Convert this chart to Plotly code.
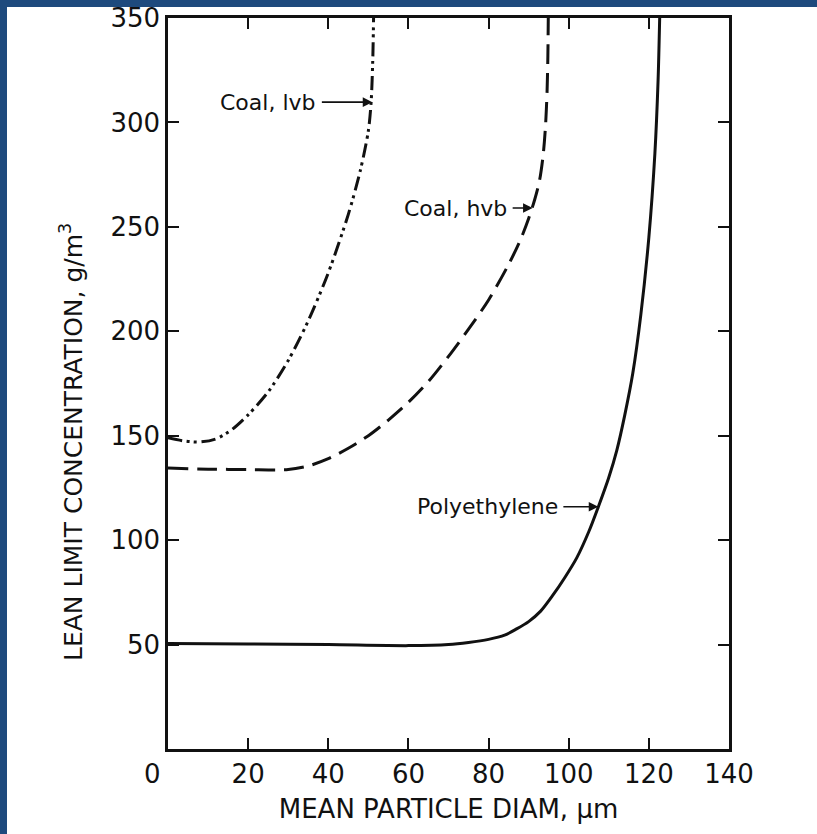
import plotly.graph_objects as go

# ---- data ----
poly_x = [0, 20, 40, 60, 70, 75, 80, 84, 87, 90, 93, 96, 99, 102, 105, 107.4, 110, 112, 114, 116, 118, 120, 121.5, 122.3, 122.7]
poly_y = [50.5, 50.3, 50, 49.5, 50, 51, 52.5, 54.5, 57.5, 61, 66, 73.5, 82, 91.5, 104, 116, 130, 143, 160, 180, 208, 245, 285, 320, 350]

hvb_x = [0, 10, 20, 30, 35, 40, 45, 50, 55, 60, 65, 70, 75, 80, 85, 88, 90, 91.5, 92.7, 93.6, 94.2, 94.6, 94.8, 94.9]
hvb_y = [134.5, 134, 133.8, 133.8, 135.5, 139, 144, 150, 157.5, 166, 176, 188, 201, 215, 232, 244, 254, 263, 272, 284, 298, 315, 332, 350]

lvb_x = [0, 4, 8, 12, 16, 20, 25, 30, 35, 40, 45, 48, 50, 50.7, 51.1, 51.3]
lvb_y = [149, 147.5, 147, 148.5, 153, 160, 171, 186, 205, 228, 256, 277, 296, 310, 330, 350]

x_ticks = [20, 40, 60, 80, 100, 120, 140]
y_ticks = [50, 100, 150, 200, 250, 300, 350]

labels = ["Coal, lvb", "Coal, hvb", "Polyethylene"]
label_tip_x = [51, 91, 107.4]
label_tip_y = [309.7, 259, 116]

# label layout (pixels): arrow length, approximate text width, gap text->arrow
arrow_len_px = [50, 20, 34]
text_w_px = [98, 104, 144]
GAP = 5

FONT = "DejaVu Sans"
INK = "#111111"
BLUE = "#1e4a7d"

fig = go.Figure()
fig.add_trace(go.Scatter(x=poly_x, y=poly_y, mode="lines",
                         line=dict(color=INK, width=3, shape="spline", smoothing=0.8), showlegend=False))
fig.add_trace(go.Scatter(x=hvb_x, y=hvb_y, mode="lines",
                         line=dict(color=INK, width=3, dash="20px,9px", shape="spline", smoothing=0.8), showlegend=False))
fig.add_trace(go.Scatter(x=lvb_x, y=lvb_y, mode="lines",
                         line=dict(color=INK, width=3, dash="14px,5px,3px,4px,3px,5px", shape="spline", smoothing=0.8),
                         showlegend=False))

W, H = 817, 834
L, R, T, B = 168, 88, 18, 85

annotations = []
for txt, tx, ty, al, tw in zip(labels, label_tip_x, label_tip_y, arrow_len_px, text_w_px):
    annotations.append(dict(x=tx, y=ty, xref="x", yref="y", text=txt, showarrow=True,
                            ax=-(al + tw / 2 + GAP), ay=0, arrowhead=2, arrowsize=1.2, arrowwidth=1.6,
                            arrowcolor=INK, standoff=0, borderpad=GAP,
                            font=dict(family=FONT, size=22, color=INK)))
# origin label "0"
annotations.append(dict(x=0, y=0, xref="x", yref="y", text="0", showarrow=False,
                        xanchor="center", yanchor="top", xshift=-16, yshift=-8,
                        font=dict(family=FONT, size=26, color=INK)))
# y axis title
annotations.append(dict(x=(72 - L) / (W - L - R), y=0.42, xref="paper", yref="paper",
                        text="LEAN LIMIT CONCENTRATION, g/m<sup>3</sup>", textangle=-90,
                        showarrow=False, xanchor="center", yanchor="middle",
                        font=dict(family=FONT, size=25, color=INK)))

pw = W - L - R
ph = H - T - B
def px2paper_x(p):
    return (p - L) / pw
def py2paper_y(p):
    return (H - B - p) / ph

shapes = [
    dict(type="rect", xref="paper", yref="paper", x0=px2paper_x(-2), x1=px2paper_x(7),
         y0=py2paper_y(H + 2), y1=py2paper_y(-2), fillcolor=BLUE, line=dict(width=0), layer="above"),
    dict(type="rect", xref="paper", yref="paper", x0=px2paper_x(-2), x1=px2paper_x(W + 2),
         y0=py2paper_y(7), y1=py2paper_y(-2), fillcolor=BLUE, line=dict(width=0), layer="above"),
]

fig.update_layout(
    width=W, height=H,
    margin=dict(l=L, r=R, t=T, b=B, autoexpand=False),
    paper_bgcolor="white", plot_bgcolor="white",
    annotations=annotations, shapes=shapes,
    font=dict(family=FONT, color=INK),
)
fig.update_xaxes(range=[0, 140], tickvals=x_ticks, ticks="inside", ticklen=11, tickwidth=1.5,
                 tickcolor=INK, showline=True, linewidth=2.5, linecolor=INK, mirror="ticks",
                 showgrid=False, zeroline=False, automargin=False,
                 tickfont=dict(family=FONT, size=26, color=INK),
                 title=dict(text="MEAN PARTICLE DIAM, μm", font=dict(family=FONT, size=26, color=INK), standoff=12))
fig.update_yaxes(range=[0, 350], tickvals=y_ticks, ticks="inside", ticklen=11, tickwidth=1.5,
                 tickcolor=INK, showline=True, linewidth=2.5, linecolor=INK, mirror="ticks",
                 showgrid=False, zeroline=False, automargin=False,
                 tickfont=dict(family=FONT, size=26, color=INK))

fig.write_html("out.html")
